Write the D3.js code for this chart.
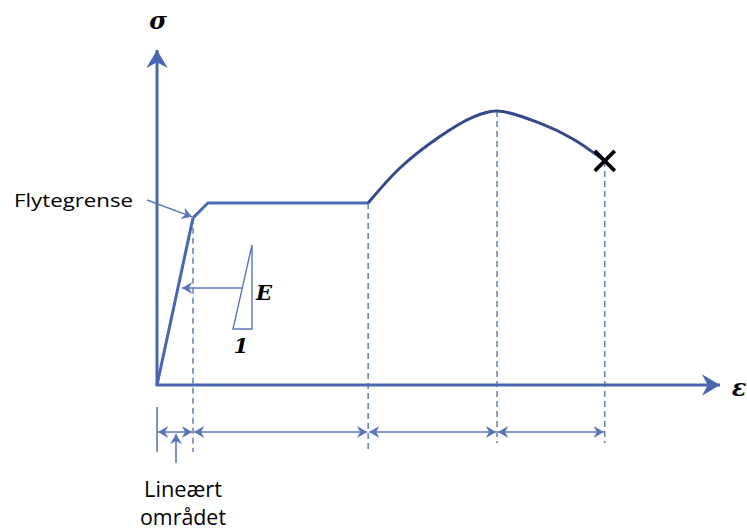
<!DOCTYPE html>
<html><head><meta charset="utf-8">
<script src="https://cdn.jsdelivr.net/npm/d3@7"></script>
<style>body{margin:0;background:#fff}svg{display:block}</style>
</head><body>
<script>
// Data (strain units, stress units)
const elasticLine = [[0,0],[1.02,49.6]];
const yieldStep = [[1.02,49.6],[1.44,54.0],[5.98,54.0]];
const hardening = [[5.98,54.0],[6.88,64.4],[7.99,73.6],[8.95,79.5],[9.63,81.3],[10.84,77.7],[11.78,73.0],[12.68,66.5]];
const fracture = [12.68,66.5];
const markers = [1.02,5.98,9.63,12.68];      // dashed verticals
const markerTops = [49.6,54.0,81.3,66.5];
const segments = [[0,1.02],[1.02,5.98],[5.98,9.63],[9.63,12.68]];
const labels = {yAxis:"σ", xAxis:"ε", yieldLabel:"Flytegrense", modulus:"E", one:"1", region1:"Lineært", region2:"området"};

const W=747,H=530;
const x=d3.scaleLinear().domain([0,16]).range([157,722]);
const y=d3.scaleLinear().domain([0,100]).range([385,48]);

const svg=d3.select("body").append("svg").attr("width",W).attr("height",H);
const defs=svg.append("defs");
function marker(id,color,size){
  defs.append("marker").attr("id",id).attr("viewBox","-12 -7 14 14")
    .attr("refX",0).attr("refY",0).attr("markerWidth",size).attr("markerHeight",size)
    .attr("markerUnits","userSpaceOnUse").attr("orient","auto-start-reverse")
    .append("path").attr("d","M0,0 L-11,-6.5 L-7.5,0 L-11,6.5 Z").attr("fill",color);
}
marker("axArrow","#4a66b0",23);
marker("dimArrow","#5a76bb",13);
marker("thinArrow","#5a76bb",13);

const axisColor="#4a66b0", dashColor="#6b85c4";

// dashed verticals
svg.selectAll(".dash").data(markers).enter().append("line")
  .attr("x1",d=>x(d)).attr("x2",d=>x(d))
  .attr("y1",(d,i)=>y(markerTops[i])).attr("y2",(d,i)=>i<2?452:443)
  .attr("stroke",dashColor).attr("stroke-width",1.6).attr("stroke-dasharray","6,4");

// axes
svg.append("line").attr("x1",x(0)).attr("y1",y(0)+1).attr("x2",x(0)).attr("y2",y(100)+2)
  .attr("stroke",axisColor).attr("stroke-width",3).attr("marker-end","url(#axArrow)");
svg.append("line").attr("x1",x(0)-1).attr("y1",y(0)).attr("x2",x(16)-2).attr("y2",y(0))
  .attr("stroke",axisColor).attr("stroke-width",3).attr("marker-end","url(#axArrow)");

const line=d3.line().x(d=>x(d[0])).y(d=>y(d[1]));
svg.append("path").attr("d",line(elasticLine)).attr("fill","none").attr("stroke","#4a66b0").attr("stroke-width",3);
svg.append("path").attr("d",line(yieldStep)).attr("fill","none").attr("stroke","#4a69b6").attr("stroke-width",3).attr("stroke-linejoin","round");
svg.append("path").attr("d",line.curve(d3.curveCatmullRom.alpha(0.5))(hardening)).attr("fill","none").attr("stroke","#34498a").attr("stroke-width",3);

// fracture X
const fx=x(fracture[0]), fy=y(fracture[1]);
svg.append("path").attr("d",`M${fx-10},${fy-10}L${fx+10},${fy+10}M${fx-10},${fy+10}L${fx+10},${fy-10}`)
  .attr("stroke","#000").attr("stroke-width",3.6);

// dimension line
const dimY=432;
svg.append("line").attr("x1",x(0)).attr("x2",x(0)).attr("y1",407).attr("y2",452).attr("stroke","#5a76bb").attr("stroke-width",1.6);
segments.forEach(s=>{
  svg.append("line").attr("x1",x(s[0])+1).attr("x2",x(s[1])-1).attr("y1",dimY).attr("y2",dimY)
    .attr("stroke","#5a76bb").attr("stroke-width",1.6)
    .attr("marker-start","url(#dimArrow)").attr("marker-end","url(#dimArrow)");
});
// up arrow under linear region
svg.append("line").attr("x1",176).attr("x2",176).attr("y1",463).attr("y2",434)
  .attr("stroke","#5a76bb").attr("stroke-width",1.6).attr("marker-end","url(#dimArrow)");

// Flytegrense arrow
svg.append("line").attr("x1",147).attr("y1",200).attr("x2",x(1.02)-1).attr("y2",y(49.6)-1)
  .attr("stroke","#5a76bb").attr("stroke-width",1.4).attr("marker-end","url(#thinArrow)");

// slope triangle
svg.append("path").attr("d","M252,245 L233,329 L252,329 Z").attr("fill","none").attr("stroke","#5a76bb").attr("stroke-width",1.4);
// E arrow
svg.append("line").attr("x1",243).attr("x2",182).attr("y1",288).attr("y2",288)
  .attr("stroke","#5a76bb").attr("stroke-width",1.5).attr("marker-end","url(#thinArrow)");

const serif="'DejaVu Serif', 'Liberation Serif', serif";
svg.append("text").attr("x",158).attr("y",29).attr("text-anchor","middle").attr("font-family",serif)
  .attr("font-weight","bold").attr("font-style","italic").attr("font-size",24).text(labels.yAxis);
svg.append("text").attr("x",739).attr("y",396).attr("text-anchor","middle").attr("font-family",serif)
  .attr("font-weight","bold").attr("font-style","italic").attr("font-size",24).text(labels.xAxis);
svg.append("text").attr("x",264).attr("y",300).attr("text-anchor","middle").attr("font-family",serif)
  .attr("font-weight","bold").attr("font-style","italic").attr("font-size",21).text(labels.modulus);
svg.append("text").attr("x",241).attr("y",353).attr("text-anchor","middle").attr("font-family",serif)
  .attr("font-weight","bold").attr("font-style","italic").attr("font-size",21).text(labels.one);

const sans="'Open Sans', 'Noto Sans', sans-serif";
svg.append("text").attr("x",14).attr("y",207).attr("font-family",sans).attr("font-size",18)
  .attr("textLength",119).attr("lengthAdjust","spacingAndGlyphs").text(labels.yieldLabel);
svg.append("text").attr("x",183).attr("y",497).attr("text-anchor","middle").attr("font-family",sans).attr("font-size",21)
  .attr("textLength",78).attr("lengthAdjust","spacingAndGlyphs").text(labels.region1);
svg.append("text").attr("x",183).attr("y",525).attr("text-anchor","middle").attr("font-family",sans).attr("font-size",21)
  .attr("textLength",86).attr("lengthAdjust","spacingAndGlyphs").text(labels.region2);
</script>
</body></html>
